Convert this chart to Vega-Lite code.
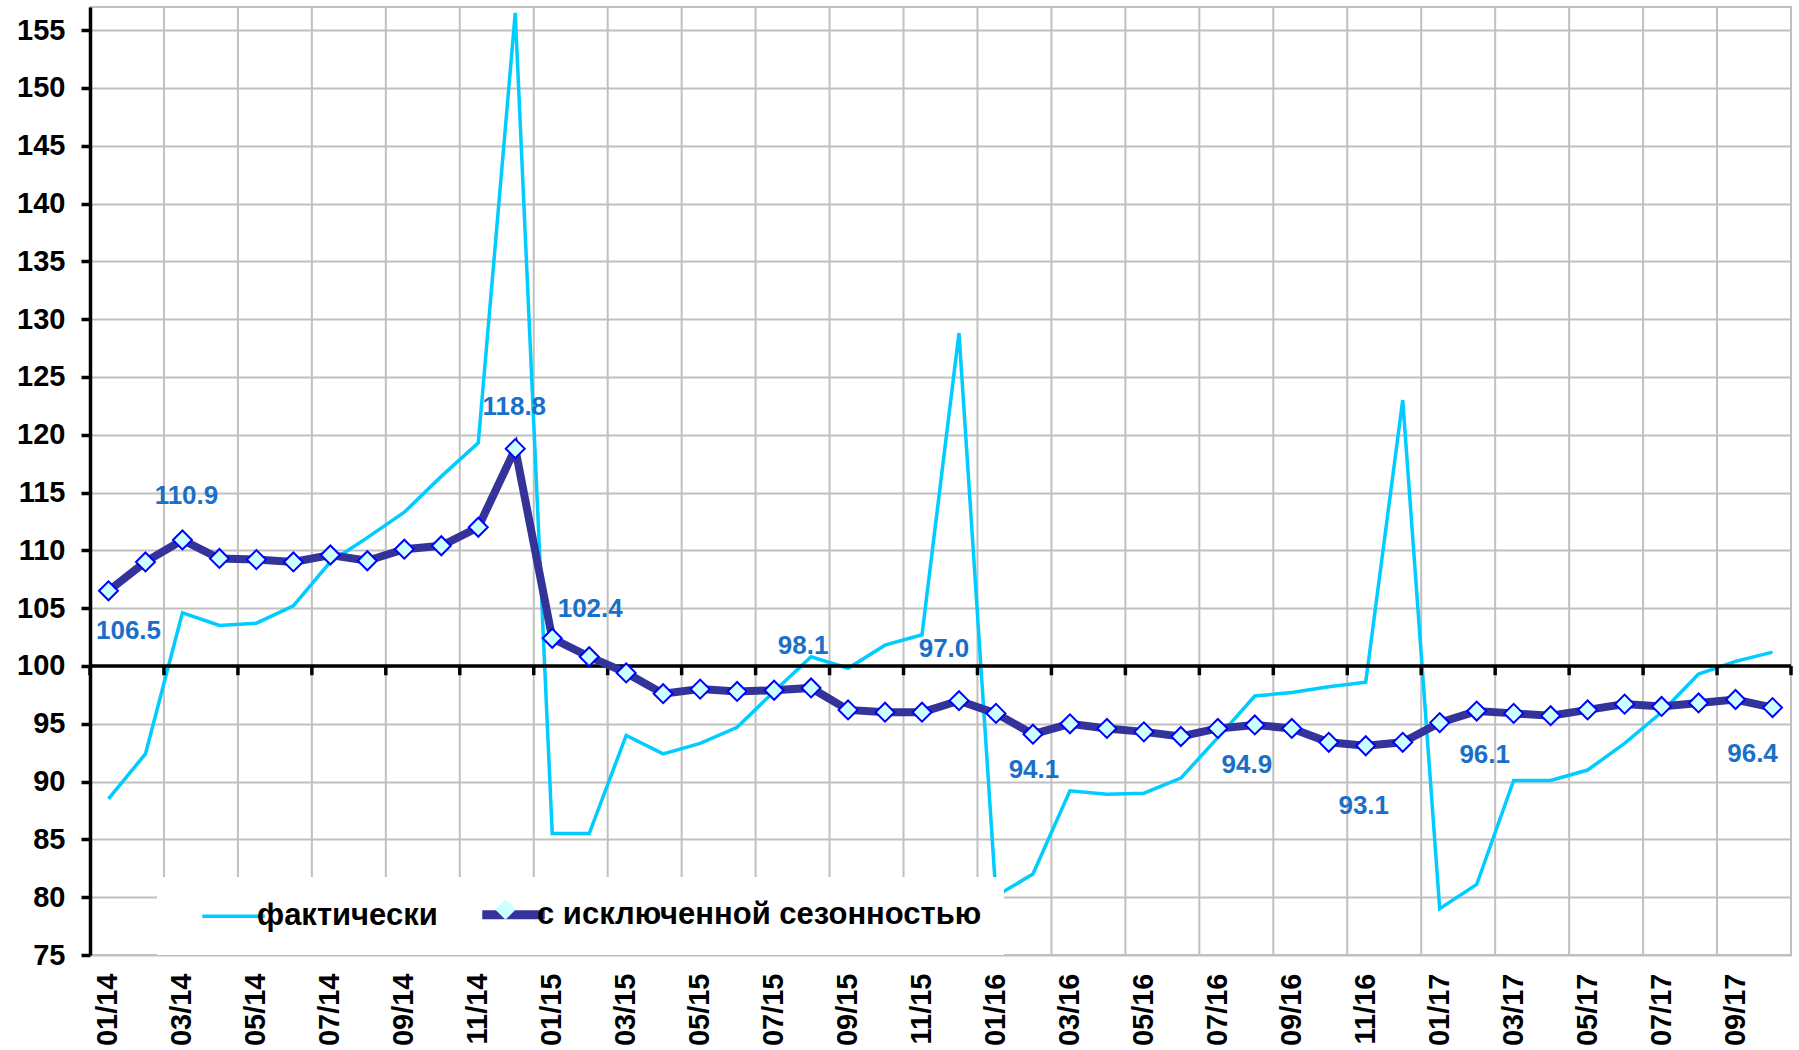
{
  "$schema": "https://vega.github.io/schema/vega-lite/v6.json",
  "autosize": {"type": "none"},
  "padding": {"left": 90, "top": 7, "right": 8, "bottom": 95},
  "width": 1701,
  "height": 948,
  "background": "white",
  "config": {"view": {"stroke": "#c0c0c0", "strokeWidth": 2}, "font": "Liberation Sans",
    "text": {"font": "Liberation Sans", "fontWeight": "bold", "fontSize": 26, "fill": "#1a6fc8", "align": "center", "baseline": "middle"}},
  "data": {"values": [
    {"m": "01/14", "fact": 88.5, "sa": 106.5},
    {"m": "02/14", "fact": 92.4, "sa": 109.0},
    {"m": "03/14", "fact": 104.6, "sa": 110.9},
    {"m": "04/14", "fact": 103.5, "sa": 109.3},
    {"m": "05/14", "fact": 103.7, "sa": 109.2},
    {"m": "06/14", "fact": 105.2, "sa": 109.0},
    {"m": "07/14", "fact": 109.0, "sa": 109.6},
    {"m": "08/14", "fact": 111.1, "sa": 109.1},
    {"m": "09/14", "fact": 113.3, "sa": 110.1},
    {"m": "10/14", "fact": 116.4, "sa": 110.4},
    {"m": "11/14", "fact": 119.3, "sa": 112.0},
    {"m": "12/14", "fact": 156.5, "sa": 118.8},
    {"m": "01/15", "fact": 85.5, "sa": 102.4},
    {"m": "02/15", "fact": 85.5, "sa": 100.8},
    {"m": "03/15", "fact": 94.0, "sa": 99.4},
    {"m": "04/15", "fact": 92.4, "sa": 97.6},
    {"m": "05/15", "fact": 93.3, "sa": 98.0},
    {"m": "06/15", "fact": 94.7, "sa": 97.8},
    {"m": "07/15", "fact": 97.8, "sa": 97.9},
    {"m": "08/15", "fact": 100.8, "sa": 98.1},
    {"m": "09/15", "fact": 99.8, "sa": 96.2},
    {"m": "10/15", "fact": 101.8, "sa": 96.0},
    {"m": "11/15", "fact": 102.7, "sa": 96.0},
    {"m": "12/15", "fact": 128.8, "sa": 97.0},
    {"m": "01/16", "fact": 80.1, "sa": 95.9},
    {"m": "02/16", "fact": 82.0, "sa": 94.1},
    {"m": "03/16", "fact": 89.2, "sa": 95.0},
    {"m": "04/16", "fact": 88.9, "sa": 94.6},
    {"m": "05/16", "fact": 89.0, "sa": 94.3},
    {"m": "06/16", "fact": 90.3, "sa": 93.9},
    {"m": "07/16", "fact": 93.8, "sa": 94.6},
    {"m": "08/16", "fact": 97.4, "sa": 94.9},
    {"m": "09/16", "fact": 97.7, "sa": 94.6},
    {"m": "10/16", "fact": 98.2, "sa": 93.4},
    {"m": "11/16", "fact": 98.6, "sa": 93.1},
    {"m": "12/16", "fact": 123.0, "sa": 93.4},
    {"m": "01/17", "fact": 79.0, "sa": 95.1},
    {"m": "02/17", "fact": 81.1, "sa": 96.1},
    {"m": "03/17", "fact": 90.1, "sa": 95.9},
    {"m": "04/17", "fact": 90.1, "sa": 95.7},
    {"m": "05/17", "fact": 91.0, "sa": 96.2},
    {"m": "06/17", "fact": 93.3, "sa": 96.7},
    {"m": "07/17", "fact": 96.0, "sa": 96.5},
    {"m": "08/17", "fact": 99.3, "sa": 96.8},
    {"m": "09/17", "fact": 100.4, "sa": 97.1},
    {"m": "10/17", "fact": 101.2, "sa": 96.4}
  ]},
  "layer": [
    {
      "transform": [{"filter": {"field": "m", "oneOf": ["03/14","05/14","07/14","09/14","11/14","01/15","03/15","05/15","07/15","09/15","11/15","01/16","03/16","05/16","07/16","09/16","11/16","01/17","03/17","05/17","07/17","09/17"]}}],
      "mark": {"type": "rule", "color": "#c0c0c0", "strokeWidth": 2},
      "encoding": {
        "x": {"field": "m", "type": "ordinal", "bandPosition": 0,
          "scale": {"type": "band", "paddingInner": 0, "paddingOuter": 0,
            "domain": ["01/14","02/14","03/14","04/14","05/14","06/14","07/14","08/14","09/14","10/14","11/14","12/14","01/15","02/15","03/15","04/15","05/15","06/15","07/15","08/15","09/15","10/15","11/15","12/15","01/16","02/16","03/16","04/16","05/16","06/16","07/16","08/16","09/16","10/16","11/16","12/16","01/17","02/17","03/17","04/17","05/17","06/17","07/17","08/17","09/17","10/17"]},
          "axis": {"values": ["01/14","03/14","05/14","07/14","09/14","11/14","01/15","03/15","05/15","07/15","09/15","11/15","01/16","03/16","05/16","07/16","09/16","11/16","01/17","03/17","05/17","07/17","09/17"],
            "labelAngle": 270, "labelPadding": 18, "labelFont": "Liberation Sans", "labelFontWeight": "bold", "labelFontSize": 29, "labelColor": "black",
            "grid": false, "ticks": false, "domain": false, "title": null}}
      }
    },
    {
      "mark": {"type": "line", "strokeWidth": 3.5},
      "encoding": {
        "x": {"field": "m", "type": "ordinal", "bandPosition": 0.5, "scale": {"type": "band", "paddingInner": 0, "paddingOuter": 0}},
        "y": {"field": "fact", "type": "quantitative", "scale": {"domain": [75, 157], "nice": false, "zero": false},
          "axis": {"values": [75,80,85,90,95,100,105,110,115,120,125,130,135,140,145,150,155], "grid": true, "gridColor": "#c0c0c0", "gridWidth": 2,
            "domainColor": "black", "domainWidth": 3.5, "tickColor": "black", "tickWidth": 3.5, "tickSize": 9,
            "labelFont": "Liberation Sans", "labelFontWeight": "bold", "labelFontSize": 29, "labelColor": "black", "labelPadding": 16, "title": null}},
        "color": {"datum": "фактически",
          "scale": {"domain": ["фактически", "с исключенной сезонностью"], "range": ["#00CCFF", "#333399"]},
          "legend": {"orient": "none", "legendX": 67, "legendY": 870, "direction": "horizontal",
            "title": "\u00a0", "titleOrient": "left", "titlePadding": 39, "titleFontSize": 8,
            "symbolType": "stroke", "symbolSize": 3900, "symbolStrokeWidth": 8,
            "labelFont": "Liberation Sans", "labelFontWeight": "bold", "labelFontSize": 31, "labelColor": "black", "labelLimit": 1000,
            "labelExpr": "datum.value === 'с исключенной сезонностью' ? datum.label + '\u00a0' : datum.label",
            "labelOffset": 8, "columnPadding": 26, "fillColor": "white", "padding": 22,
            "encode": {"symbols": {"update": {"strokeWidth": {"signal": "datum.value === 'фактически' ? 3.5 : 9"}}}}}}
      }
    },
    {
      "data": {"values": [{"base": 100}]},
      "mark": {"type": "rule", "color": "black", "strokeWidth": 3.5},
      "encoding": {
        "y": {"field": "base", "type": "quantitative"}
      }
    },
    {
      "transform": [{"filter": {"field": "m", "oneOf": ["01/14","03/14","05/14","07/14","09/14","11/14","01/15","03/15","05/15","07/15","09/15","11/15","01/16","03/16","05/16","07/16","09/16","11/16","01/17","03/17","05/17","07/17","09/17"]}}],
      "mark": {"type": "rule", "color": "black", "strokeWidth": 3.5},
      "encoding": {
        "x": {"field": "m", "type": "ordinal", "bandPosition": 0, "scale": {"type": "band", "paddingInner": 0, "paddingOuter": 0}},
        "y": {"datum": 100, "type": "quantitative"},
        "y2": {"datum": 99.2}
      }
    },
    {
      "transform": [{"filter": {"field": "m", "equal": "10/17"}}],
      "mark": {"type": "rule", "color": "black", "strokeWidth": 3.5},
      "encoding": {
        "x": {"field": "m", "type": "ordinal", "bandPosition": 1, "scale": {"type": "band", "paddingInner": 0, "paddingOuter": 0}},
        "y": {"datum": 100, "type": "quantitative"},
        "y2": {"datum": 99.2}
      }
    },
    {
      "mark": {"type": "line", "strokeWidth": 8},
      "encoding": {
        "x": {"field": "m", "type": "ordinal", "bandPosition": 0.5, "scale": {"type": "band", "paddingInner": 0, "paddingOuter": 0}},
        "y": {"field": "sa", "type": "quantitative"},
        "color": {"datum": "с исключенной сезонностью"}
      }
    },
    {
      "mark": {"type": "point", "filled": true, "fill": "#CCFFFF", "stroke": "#0000FF", "strokeWidth": 2, "size": 360, "opacity": 1},
      "encoding": {
        "x": {"field": "m", "type": "ordinal", "bandPosition": 0.5, "scale": {"type": "band", "paddingInner": 0, "paddingOuter": 0}},
        "y": {"field": "sa", "type": "quantitative"},
        "shape": {"datum": "ромб", "scale": {"range": ["diamond"]},
          "legend": {"orient": "none", "legendX": 404, "legendY": 891, "title": null, "labelExpr": "''", "labelFontSize": 20,
            "symbolType": "diamond", "symbolSize": 420, "symbolFillColor": "#CCFFFF", "symbolStrokeColor": "#0000FF", "symbolStrokeWidth": 2, "symbolOpacity": 1, "padding": 0, "labelOffset": 0,
            "encode": {"symbols": {"update": {"size": {"value": 420}, "shape": {"value": "diamond"}, "fill": {"value": "#CCFFFF"}, "stroke": {"value": "#0000FF"}, "strokeWidth": {"value": 2}, "opacity": {"value": 1}}}}}}
      }
    },
    {"transform": [{"filter": {"field": "m", "equal": "01/14"}}], "mark": {"type": "text", "dx": 20, "dy": 40},
      "encoding": {"x": {"field": "m", "type": "ordinal", "bandPosition": 0.5}, "y": {"field": "sa", "type": "quantitative"}, "text": {"field": "sa", "type": "quantitative", "format": ".1f"}}},
    {"transform": [{"filter": {"field": "m", "equal": "03/14"}}], "mark": {"type": "text", "dx": 4, "dy": -44},
      "encoding": {"x": {"field": "m", "type": "ordinal", "bandPosition": 0.5}, "y": {"field": "sa", "type": "quantitative"}, "text": {"field": "sa", "type": "quantitative", "format": ".1f"}}},
    {"transform": [{"filter": {"field": "m", "equal": "12/14"}}], "mark": {"type": "text", "dx": -1, "dy": -42},
      "encoding": {"x": {"field": "m", "type": "ordinal", "bandPosition": 0.5}, "y": {"field": "sa", "type": "quantitative"}, "text": {"field": "sa", "type": "quantitative", "format": ".1f"}}},
    {"transform": [{"filter": {"field": "m", "equal": "01/15"}}], "mark": {"type": "text", "dx": 38, "dy": -29},
      "encoding": {"x": {"field": "m", "type": "ordinal", "bandPosition": 0.5}, "y": {"field": "sa", "type": "quantitative"}, "text": {"field": "sa", "type": "quantitative", "format": ".1f"}}},
    {"transform": [{"filter": {"field": "m", "equal": "08/15"}}], "mark": {"type": "text", "dx": -8, "dy": -42},
      "encoding": {"x": {"field": "m", "type": "ordinal", "bandPosition": 0.5}, "y": {"field": "sa", "type": "quantitative"}, "text": {"field": "sa", "type": "quantitative", "format": ".1f"}}},
    {"transform": [{"filter": {"field": "m", "equal": "12/15"}}], "mark": {"type": "text", "dx": -15, "dy": -52},
      "encoding": {"x": {"field": "m", "type": "ordinal", "bandPosition": 0.5}, "y": {"field": "sa", "type": "quantitative"}, "text": {"field": "sa", "type": "quantitative", "format": ".1f"}}},
    {"transform": [{"filter": {"field": "m", "equal": "02/16"}}], "mark": {"type": "text", "dx": 1, "dy": 36},
      "encoding": {"x": {"field": "m", "type": "ordinal", "bandPosition": 0.5}, "y": {"field": "sa", "type": "quantitative"}, "text": {"field": "sa", "type": "quantitative", "format": ".1f"}}},
    {"transform": [{"filter": {"field": "m", "equal": "08/16"}}], "mark": {"type": "text", "dx": -8, "dy": 40},
      "encoding": {"x": {"field": "m", "type": "ordinal", "bandPosition": 0.5}, "y": {"field": "sa", "type": "quantitative"}, "text": {"field": "sa", "type": "quantitative", "format": ".1f"}}},
    {"transform": [{"filter": {"field": "m", "equal": "11/16"}}], "mark": {"type": "text", "dx": -2, "dy": 60},
      "encoding": {"x": {"field": "m", "type": "ordinal", "bandPosition": 0.5}, "y": {"field": "sa", "type": "quantitative"}, "text": {"field": "sa", "type": "quantitative", "format": ".1f"}}},
    {"transform": [{"filter": {"field": "m", "equal": "02/17"}}], "mark": {"type": "text", "dx": 8, "dy": 44},
      "encoding": {"x": {"field": "m", "type": "ordinal", "bandPosition": 0.5}, "y": {"field": "sa", "type": "quantitative"}, "text": {"field": "sa", "type": "quantitative", "format": ".1f"}}},
    {"transform": [{"filter": {"field": "m", "equal": "10/17"}}], "mark": {"type": "text", "dx": -20, "dy": 46},
      "encoding": {"x": {"field": "m", "type": "ordinal", "bandPosition": 0.5}, "y": {"field": "sa", "type": "quantitative"}, "text": {"field": "sa", "type": "quantitative", "format": ".1f"}}}
  ]
}
